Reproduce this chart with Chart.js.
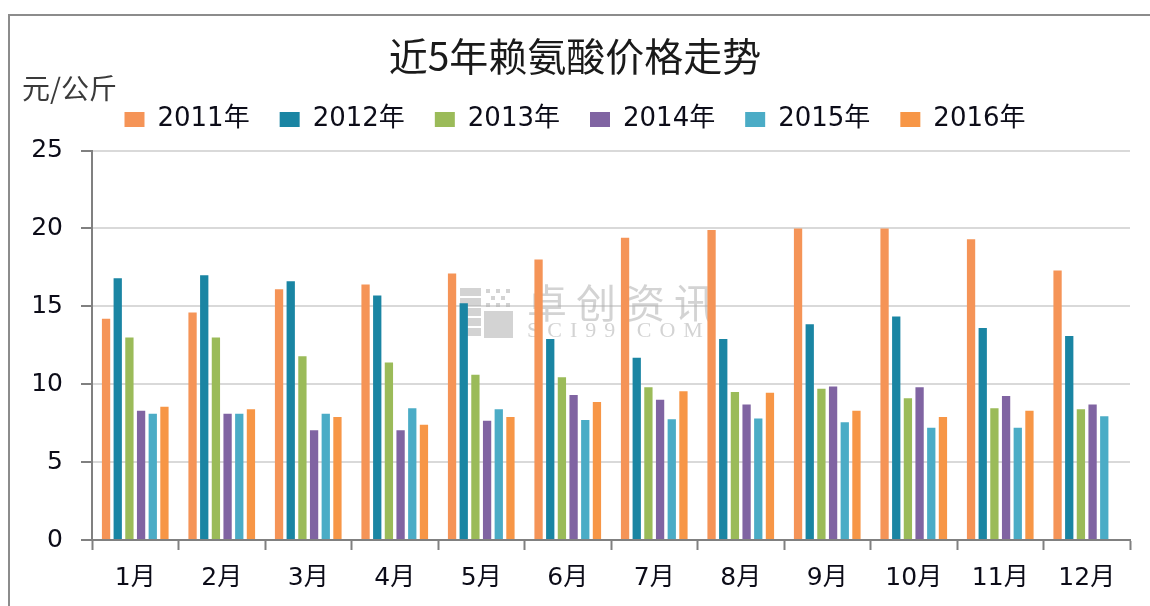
<!DOCTYPE html>
<html>
<head>
<meta charset="utf-8">
<script src="https://cdn.jsdelivr.net/npm/chart.js@4"></script>
<style>
  html, body { margin: 0; padding: 0; background: #fff; overflow: hidden; }
  #wrap { position: absolute; left: 0; top: 0; width: 1150px; height: 606px; }
</style>
</head>
<body>
<div id="wrap"><canvas id="lysine"></canvas></div>
<script>
// months on the x axis
var months = ['1月', '2月', '3月', '4月', '5月', '6月', '7月', '8月', '9月', '10月', '11月', '12月'];

// price per year, 元/公斤
var y2011 = [14.2, 14.6, 16.1, 16.4, 17.1, 18.0, 19.4, 19.9, 20.0, 20.0, 19.3, 17.3];
var y2012 = [16.8, 17.0, 16.6, 15.7, 15.2, 12.9, 11.7, 12.9, 13.85, 14.35, 13.6, 13.1];
var y2013 = [13.0, 13.0, 11.8, 11.4, 10.6, 10.45, 9.8, 9.5, 9.7, 9.1, 8.45, 8.4];
var y2014 = [8.3, 8.1, 7.05, 7.05, 7.65, 9.3, 9.0, 8.7, 9.85, 9.8, 9.25, 8.7];
var y2015 = [8.1, 8.1, 8.1, 8.45, 8.4, 7.7, 7.75, 7.8, 7.55, 7.2, 7.2, 7.95];
var y2016 = [8.55, 8.4, 7.9, 7.4, 7.9, 8.85, 9.55, 9.45, 8.3, 7.9, 8.3, null];

var yTicks = [0, 5, 10, 15, 20, 25];

var numFont = "'DejaVu Sans', 'Noto Sans CJK SC', sans-serif";
var textColor = '#0c0c18';

// outer frame, unit label and faint watermark, drawn straight onto the canvas
var extras = {
    id: 'extras',
    beforeDraw: function (chart) {
        var ctx = chart.ctx;
        ctx.save();
        ctx.strokeStyle = '#8c8c8c';
        ctx.lineWidth = 2;
        ctx.beginPath();
        ctx.moveTo(9, chart.height);
        ctx.lineTo(9, 15);
        ctx.lineTo(chart.width, 15);
        ctx.stroke();
        ctx.restore();
    },
    beforeDatasetsDraw: function (chart) {
        var ctx = chart.ctx;
        ctx.save();
        ctx.fillStyle = 'rgba(175,175,175,0.55)';
        // logo blocks
        [288, 298, 308, 318, 328].forEach(function (y) { ctx.fillRect(460, y, 21, 8); });
        [[486, 289], [496, 289], [506, 289], [491, 296], [501, 296], [486, 303], [496, 303], [506, 303]]
            .forEach(function (p) { ctx.fillRect(p[0], p[1], 4, 4); });
        ctx.fillRect(484, 311, 29, 27);
        ctx.font = "40px 'Noto Sans CJK SC'";
        ctx.textBaseline = 'middle';
        ctx.letterSpacing = '9px';
        ctx.fillText('卓创资讯', 527, 303);
        ctx.font = "22px 'Liberation Serif'";
        ctx.letterSpacing = '8px';
        ctx.fillText('SCI99.COM', 527, 331);
        ctx.restore();
    },
    afterDraw: function (chart) {
        var ctx = chart.ctx;
        ctx.save();
        ctx.fillStyle = '#3a3a3a';
        ctx.font = "28px 'Noto Sans CJK SC'";
        ctx.textBaseline = 'middle';
        ctx.fillText('元/公斤', 22, 88);
        ctx.restore();
    }
};

var ctx = document.getElementById('lysine').getContext('2d');

var myChart = new Chart(ctx, {
    type: 'bar',
    data: {
        labels: months,
        datasets: [
            { label: '2011年', data: y2011, backgroundColor: '#F59457' },
            { label: '2012年', data: y2012, backgroundColor: '#1A85A3' },
            { label: '2013年', data: y2013, backgroundColor: '#9BBB59' },
            { label: '2014年', data: y2014, backgroundColor: '#8064A2' },
            { label: '2015年', data: y2015, backgroundColor: '#4BACC6' },
            { label: '2016年', data: y2016, backgroundColor: '#F79646' }
        ]
    },
    plugins: [extras],
    options: {
        responsive: true,
        maintainAspectRatio: false,
        animation: false,
        datasets: {
            bar: { categoryPercentage: 0.81, barPercentage: 0.71 }
        },
        layout: { padding: { left: 20, right: 20, top: 17, bottom: 0 } },
        plugins: {
            title: {
                display: true,
                text: '近5年赖氨酸价格走势',
                color: '#1a1a1a',
                font: { family: "'Noto Sans CJK SC'", size: 39, weight: 'normal', lineHeight: 0.5 },
                padding: { top: 29, bottom: 11 }
            },
            // empty spacer under the legend
            subtitle: {
                display: true,
                text: '',
                position: 'top',
                weight: 500,
                font: { size: 8, lineHeight: 1 },
                padding: 0
            },
            legend: {
                position: 'top',
                labels: {
                    boxWidth: 20,
                    boxHeight: 15,
                    padding: 30,
                    color: textColor,
                    font: { family: numFont, size: 26 }
                }
            },
            tooltip: { enabled: false }
        },
        scales: {
            x: {
                grid: {
                    offset: true,
                    drawOnChartArea: false,
                    tickLength: 10,
                    tickColor: '#808080',
                    tickWidth: 2
                },
                border: { color: '#808080', width: 2 },
                ticks: {
                    color: textColor,
                    font: { family: numFont, size: 25 },
                    padding: 13
                },
                afterFit: function (scale) { scale.height = 66; }
            },
            y: {
                min: 0,
                max: 25,
                afterBuildTicks: function (scale) {
                    scale.ticks = yTicks.map(v => ({ value: v }));
                },
                grid: {
                    color: '#d9d9d9',
                    lineWidth: 2,
                    tickLength: 11,
                    tickColor: '#808080',
                    tickWidth: 2
                },
                border: { color: '#808080', width: 2 },
                ticks: {
                    color: textColor,
                    font: { family: numFont, size: 25 },
                    padding: 18
                },
                afterFit: function (scale) { scale.width = 72; }
            }
        }
    }
});
</script>
</body>
</html>
